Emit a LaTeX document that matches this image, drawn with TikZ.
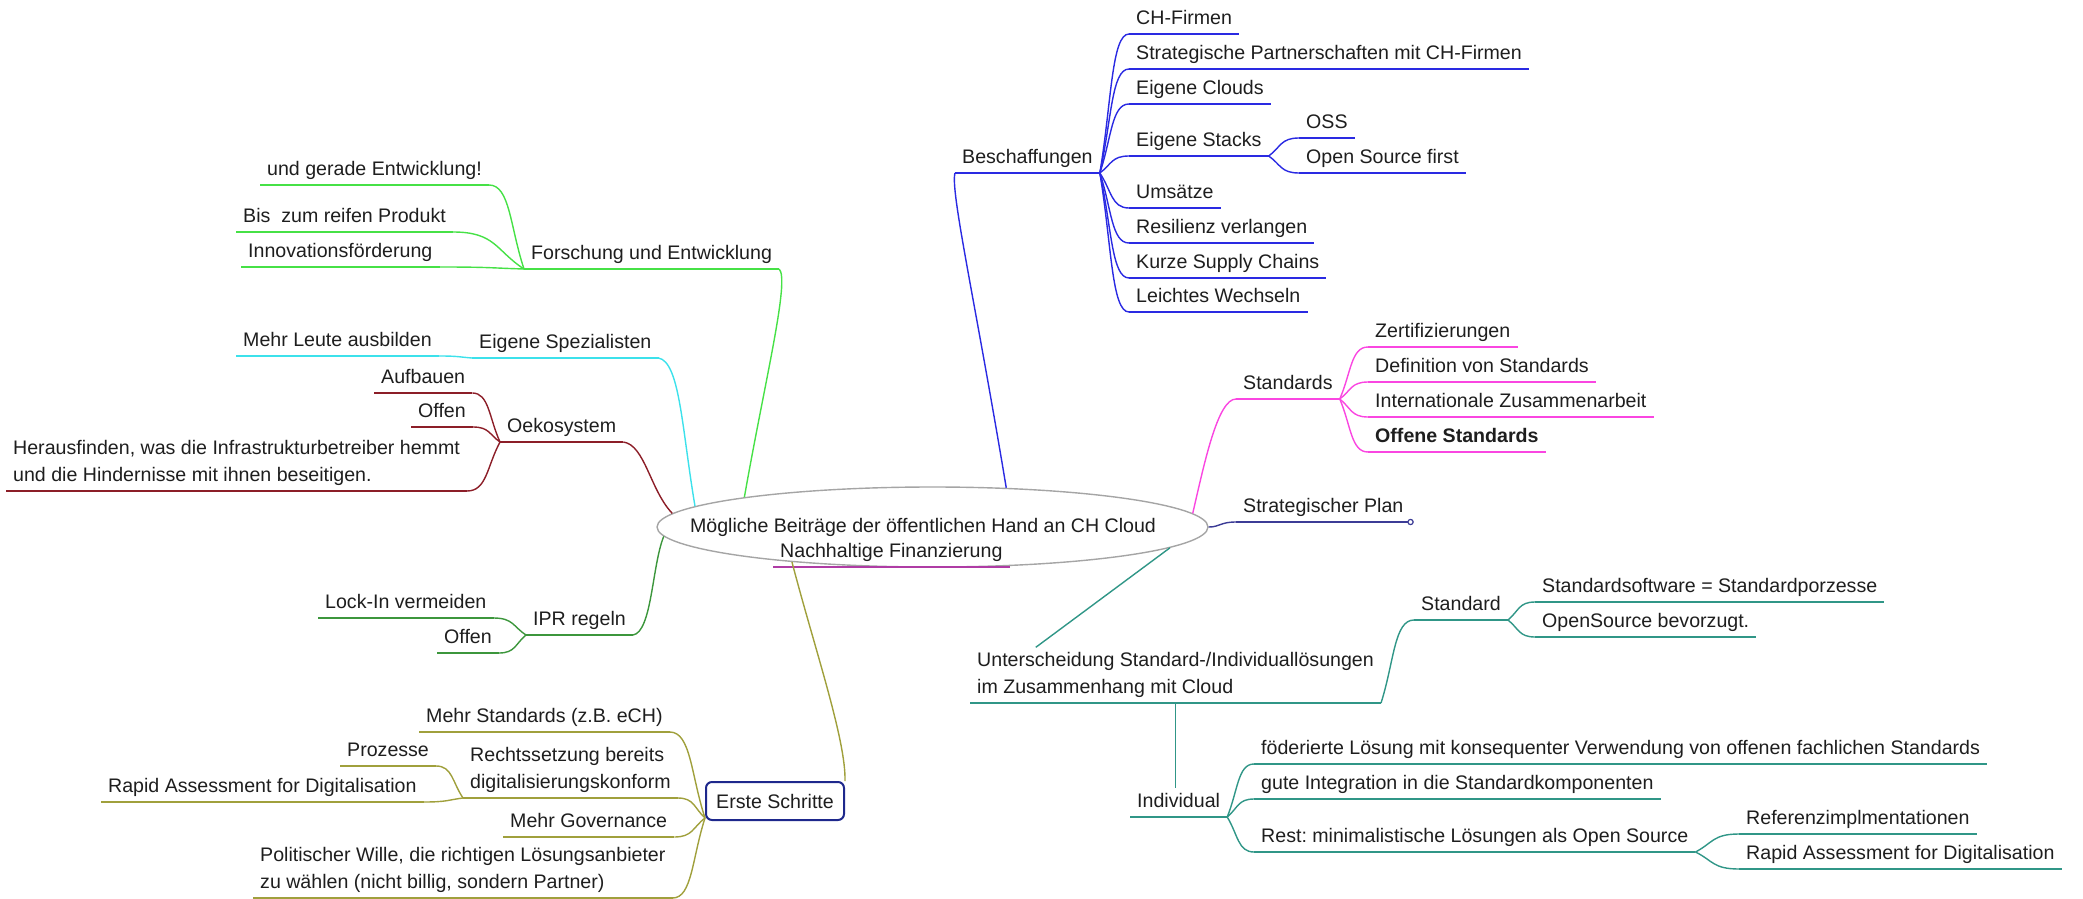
\documentclass[tikz,border=0pt]{standalone}
\usepackage{fontspec}
\setmainfont{Liberation Sans}
\usetikzlibrary{calc,shapes.geometric}
\definecolor{inkc}{RGB}{30,30,30}
\definecolor{rimc}{RGB}{165,165,165}
\definecolor{beschc}{RGB}{42,42,226}
\definecolor{stdc}{RGB}{250,70,225}
\definecolor{planc}{RGB}{60,60,150}
\definecolor{tealc}{RGB}{48,150,135}
\definecolor{fuec}{RGB}{70,225,70}
\definecolor{spezc}{RGB}{60,225,235}
\definecolor{oekoc}{RGB}{140,30,40}
\definecolor{iprc}{RGB}{60,150,60}
\definecolor{stepc}{RGB}{160,160,60}
\definecolor{navyc}{RGB}{30,40,140}
\definecolor{financec}{RGB}{175,60,165}
\newcommand\mapfont{\fontsize{19.6}{27}\selectfont\frenchspacing}

\begin{document}
\begin{tikzpicture}[x=1pt,y=1pt,
  every node/.style={font=\mapfont,text=inkc},
  under/.style={anchor=south west,inner xsep=7pt,inner ysep=5pt,
    append after command={(\tikzlastnode.south west) edge[draw=#1,line width=1.4pt] (\tikzlastnode.south east)}},
  topic/.style={under=#1,text depth=4pt},
  topicml/.style={under=#1,align=left},
  limb/.style={line width=1.4pt},
  twig/.style={line width=1.4pt,to path={let \p1=(\tikztostart), \p2=(\tikztotarget) in
    .. controls ({0.6*\x1+0.4*\x2},{0.5*\y1+0.5*\y2}) and ({0.6*\x1+0.4*\x2},\y2) .. (\tikztotarget)}},
  stepbox/.style={draw=navyc,line width=2pt,rounded corners=6pt,minimum width=138pt,minimum height=38pt,inner sep=0pt}]
  \useasboundingbox (0,0) rectangle (2083,-899);

  % centre
  \node (root) at (932.5,-527) [ellipse,draw=rimc,line width=1.4pt,fill=white,minimum width=551pt,minimum height=80pt,inner sep=0pt] {};
  \node (rootlabel) at (923,-527) {Mögliche Beiträge der öffentlichen Hand an CH Cloud};
  \node (finance) at (773,-567) [topic=financec] {Nachhaltige Finanzierung};

  % Beschaffungen
  \node (besch) at (955,-173) [topic=beschc] {Beschaffungen};
  \node (c1) at (1129,-34) [topic=beschc] {CH-Firmen};
  \node (c2) at (1129,-69) [topic=beschc] {Strategische Partnerschaften mit CH-Firmen};
  \node (c3) at (1129,-104) [topic=beschc] {Eigene Clouds};
  \node (c4) at (1129,-156) [topic=beschc] {Eigene Stacks};
  \node (oss) at (1299,-138) [topic=beschc] {OSS};
  \node (osf) at (1299,-173) [topic=beschc] {Open Source first};
  \node (c5) at (1129,-208) [topic=beschc] {Umsätze};
  \node (c6) at (1129,-243) [topic=beschc] {Resilienz verlangen};
  \node (c7) at (1129,-278) [topic=beschc] {Kurze Supply Chains};
  \node (c8) at (1129,-312) [topic=beschc] {Leichtes Wechseln};
  \draw [beschc,limb] (root.28.3) .. controls (975,-300) and (950,-190) .. (besch.south west);
  \foreach \k in {c1,c2,c3,c4,c5,c6,c7,c8}
    \draw [beschc,twig] (besch.south east) to (\k.south west);
  \draw [beschc,twig] (c4.south east) to (oss.south west);
  \draw [beschc,twig] (c4.south east) to (osf.south west);

  % Standards
  \node (std) at (1236,-399) [topic=stdc] {Standards};
  \node (s1) at (1368,-347) [topic=stdc] {Zertifizierungen};
  \node (s2) at (1368,-382) [topic=stdc] {Definition von Standards};
  \node (s3) at (1368,-417) [topic=stdc] {Internationale Zusammenarbeit};
  \node (s4) at (1368,-452) [topic=stdc] {\textbf{Offene Standards}};
  \draw [stdc,limb] (root.3.36) .. controls (1205,-460) and (1218,-399) .. (std.south west);
  \foreach \k in {s1,s2,s3,s4}
    \draw [stdc,twig] (std.south east) to (\k.south west);

  % Strategischer Plan
  \node (plan) at (1236,-522) [topic=planc] {Strategischer Plan};
  \draw [planc,limb] (root.east) .. controls (1220,-527) and (1220,-522) .. (plan.south west);
  \draw [planc,line width=1.2pt,fill=white] (plan.south east) circle (2.6);

  % Standard / Individual
  \node (diff) at (970,-703) [topicml=tealc] {Unterscheidung Standard-/Individuallösungen\\im Zusammenhang mit Cloud};
  \node (stdsol) at (1414,-620) [topic=tealc] {Standard};
  \node (ss1) at (1535,-602) [topic=tealc] {Standardsoftware = Standardporzesse};
  \node (ss2) at (1535,-637) [topic=tealc] {OpenSource bevorzugt.};
  \node (indiv) at (1130,-817) [topic=tealc] {Individual};
  \node (i1) at (1254,-764) [topic=tealc] {föderierte Lösung mit konsequenter Verwendung von offenen fachlichen Standards};
  \node (i2) at (1254,-799) [topic=tealc] {gute Integration in die Standardkomponenten};
  \node (i3) at (1254,-852) [topic=tealc] {Rest: minimalistische Lösungen als Open Source};
  \node (r1) at (1739,-834) [topic=tealc] {Referenzimplmentationen};
  \node (r2) at (1739,-869) [topic=tealc] {Rapid Assessment for Digitalisation};
  \draw [tealc,limb] (root.-5.03) -- ($(diff.north west)!0.16!(diff.north east)$);
  \draw [tealc,twig] (diff.south east) to (stdsol.south west);
  \draw [tealc,limb] (diff.south) -- (diff.south |- indiv.north);
  \foreach \k in {ss1,ss2}
    \draw [tealc,twig] (stdsol.south east) to (\k.south west);
  \foreach \k in {i1,i2,i3}
    \draw [tealc,twig] (indiv.south east) to (\k.south west);
  \foreach \k in {r1,r2}
    \draw [tealc,twig] (i3.south east) to (\k.south west);

  % Forschung und Entwicklung
  \node (fue) at (524,-269) [topic=fuec] {Forschung und Entwicklung};
  \node (f1) at (260,-185) [topic=fuec] {und gerade Entwicklung!};
  \node (f2) at (236,-232) [topic=fuec] {Bis\ \ zum reifen Produkt};
  \node (f3) at (241,-267) [topic=fuec] {Innovationsförderung};
  \draw [fuec,limb] (root.171.85) .. controls (765,-380) and (790,-280) .. (fue.south east);
  \foreach \k in {f1,f2,f3}
    \draw [fuec,twig] (fue.south west) to (\k.south east);

  % Eigene Spezialisten
  \node (spez) at (472,-358) [topic=spezc] {Eigene Spezialisten};
  \node (sp1) at (236,-356) [topic=spezc] {Mehr Leute ausbilden};
  \draw [spezc,limb] (root.175.66) .. controls (682,-430) and (680,-362) .. (spez.south east);
  \draw [spezc,twig] (spez.south west) to (sp1.south east);

  % Oekosystem
  \node (oeko) at (500,-442) [topic=oekoc] {Oekosystem};
  \node (o1) at (374,-393) [topic=oekoc] {Aufbauen};
  \node (o2) at (411,-427) [topic=oekoc] {Offen};
  \node (o3) at (6,-491) [topicml=oekoc] {Herausfinden, was die Infrastrukturbetreiber hemmt\\und die Hindernisse mit ihnen beseitigen.};
  \draw [oekoc,limb] (root.177.88) .. controls (650,-490) and (645,-445) .. (oeko.south east);
  \foreach \k in {o1,o2,o3}
    \draw [oekoc,twig] (oeko.south west) to (\k.south east);

  % IPR regeln
  \node (ipr) at (526,-635) [topic=iprc] {IPR regeln};
  \node (p1) at (318,-618) [topic=iprc] {Lock-In vermeiden};
  \node (p2) at (437,-653) [topic=iprc] {Offen};
  \draw [iprc,limb] (root.182.34) .. controls (652,-565) and (652,-632) .. (ipr.south east);
  \foreach \k in {p1,p2}
    \draw [iprc,twig] (ipr.south west) to (\k.south east);

  % Erste Schritte
  \node (steps) at (775,-801) [stepbox] {Erste Schritte};
  \node (e1) at (419,-732) [topic=stepc] {Mehr Standards (z.B. eCH)};
  \node (e2) at (463,-798) [topicml=stepc] {Rechtssetzung bereits\\digitalisierungskonform};
  \node (e21) at (340,-766) [topic=stepc] {Prozesse};
  \node (e22) at (101,-802) [topic=stepc] {Rapid Assessment for Digitalisation};
  \node (e3) at (503,-837) [topic=stepc] {Mehr Governance};
  \node (e4) at (253,-898) [topicml=stepc] {Politischer Wille, die richtigen Lösungsanbieter\\zu wählen (nicht billig, sondern Partner)};
  \draw [stepc,limb] (root.194) .. controls (815,-650) and (846,-740) .. (steps.north east);
  \foreach \k in {e1,e2,e3,e4}
    \draw [stepc,twig] ([yshift=3pt]steps.south west) to (\k.south east);
  \foreach \k in {e21,e22}
    \draw [stepc,twig] (e2.south west) to (\k.south east);
\end{tikzpicture}
\end{document}
